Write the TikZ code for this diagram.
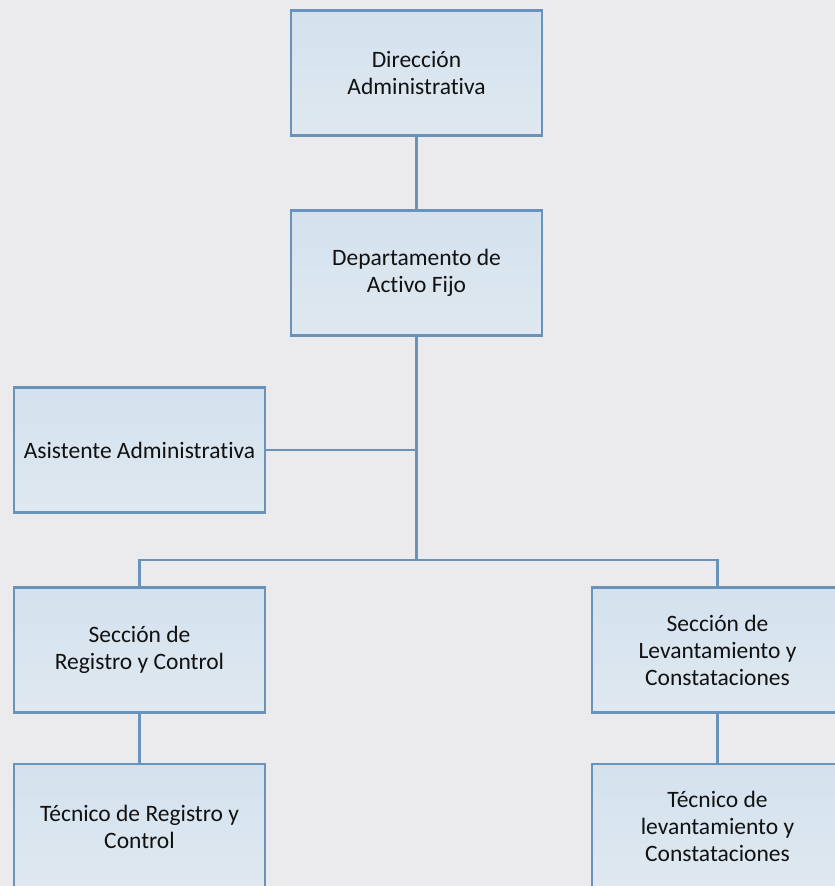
\documentclass[tikz,border=0pt]{standalone}
\usepackage{fontspec}
\setmainfont{Carlito}[Ligatures=NoCommon]
\definecolor{pagebg}{HTML}{EBEBED}
\definecolor{boxline}{HTML}{6A93BB}
\definecolor{boxtop}{HTML}{D3E2EE}
\definecolor{boxbot}{HTML}{DFE8F0}
\definecolor{txt}{HTML}{111111}
\begin{document}
\begin{tikzpicture}[x=1pt,y=-1pt,
  orgbox/.style={draw=boxline, line width=2.6pt, top color=boxtop, bottom color=boxbot,
    minimum width=251pt, minimum height=125pt, align=center, inner sep=0pt,
    font=\fontsize{23.5}{27}\selectfont, text=txt},
  link/.style={draw=boxline, line width=2.6pt}]
  \useasboundingbox (0,0) rectangle (835,886);
  \clip (0,0) rectangle (835,886);
  \fill[pagebg] (0,0) rectangle (835,886);

  % boxes
  \node[orgbox] (dir) at (416.5,73) {Dirección\\Administrativa};
  \node[orgbox] (dep) at (416.5,273) {Departamento de\\Activo Fijo};
  \node[orgbox] (asi) at (139.5,450) {Asistente Administrativa};
  \node[orgbox] (reg) at (139.5,650) {Sección de\\Registro y Control};
  \node[orgbox] (lev) at (717.5,650) {Sección de\\Levantamiento y\\Constataciones};
  \node[orgbox] (treg) at (139.5,826.5) {Técnico de Registro y\\Control};
  \node[orgbox] (tlev) at (717.5,826.5) {Técnico de\\levantamiento y\\Constataciones};

  % branching point of the lower sections
  \coordinate (bus) at (416.5,560);

  % connectors
  \draw[link] (dir.south) -- (dep.north);
  \draw[link] (dep.south) -- (bus);
  \draw[link] (asi.east) -- (asi.east -| dep.south);
  \draw[link] (reg.north) |- (bus) -| (lev.north);
  \draw[link] (reg.south) -- (treg.north);
  \draw[link] (lev.south) -- (tlev.north);
\end{tikzpicture}
\end{document}
